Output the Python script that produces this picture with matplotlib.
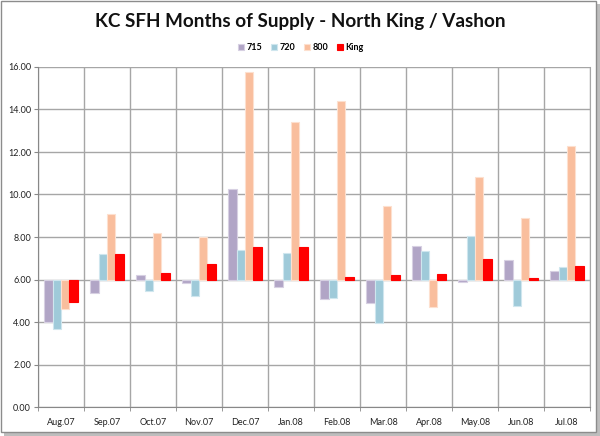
import matplotlib
matplotlib.use("Agg")
import matplotlib.pyplot as plt
from matplotlib.patches import Rectangle
import numpy as np

categories = ["Aug.07", "Sep.07", "Oct.07", "Nov.07", "Dec.07", "Jan.08",
              "Feb.08", "Mar.08", "Apr.08", "May.08", "Jun.08", "Jul.08"]
series_names = ["715", "720", "800", "King"]
s715 = [4.00, 5.37, 6.19, 5.83, 10.24, 5.67, 5.09, 4.90, 7.60, 5.89, 6.91, 6.38]
s720 = [3.68, 7.19, 5.47, 5.21, 7.40, 7.24, 5.12, 3.97, 7.33, 8.06, 4.77, 6.57]
s800 = [4.59, 9.10, 8.20, 8.00, 15.76, 13.41, 14.40, 9.44, 4.71, 10.84, 8.91, 12.30]
sKing = [4.92, 7.22, 6.30, 6.75, 7.55, 7.54, 6.13, 6.19, 6.24, 6.97, 6.05, 6.63]
yticks = [0, 2, 4, 6, 8, 10, 12, 14, 16]
baseline = 6.0

colors = ["#b1a5c6", "#9fcad9", "#f9be9d", "#ff0000"]
edges = ["#d7d0e2", "#cfe6ee", "#fde0cf", "#ff0000"]

plt.rcParams['font.family'] = ['Lato', 'DejaVu Sans']

fig = plt.figure(figsize=(6.0, 4.36), dpi=100)
fig.patch.set_facecolor("white")
# outer frame with shadow
fig.patches.append(Rectangle((4/600, 0/436), 596/600, 432/436, transform=fig.transFigure,
                             facecolor="#bdbdbd", edgecolor="none", zorder=-2))
fig.patches.append(Rectangle((1/600, 4/436), 595/600, 431/436, transform=fig.transFigure,
                             facecolor="white", edgecolor="#8c8c8c", linewidth=1.0, zorder=-1))

ax = fig.add_axes([38/600, 1 - 407/436, (590-38)/600, (407-67)/436])
x = np.arange(len(categories))
w = 0.18
data = [s715, s720, s800, sKing]
for i, (vals, c, e, name) in enumerate(zip(data, colors, edges, series_names)):
    v = np.array(vals)
    ax.bar(x + (i - 1.5) * w, v - baseline, bottom=baseline, width=w, color=c,
           edgecolor=e, linewidth=0.8, label=name, zorder=3)

ax.set_xlim(-0.5, len(categories) - 0.5)
ax.set_ylim(0, 16)
ax.set_yticks(yticks)
ax.set_yticklabels([f"{t:.2f}" for t in yticks], fontsize=6.5, color="#222222")
ax.set_xticks(x)
ax.set_xticklabels(categories, fontsize=6.5, color="#222222")
ax.tick_params(axis='x', length=0, pad=8)
ax.tick_params(axis='y', length=3, color="#888888", pad=2)
ax.set_xticks(np.arange(len(categories) + 1) - 0.5, minor=True)
ax.tick_params(axis='x', which='minor', length=3, color="#888888")
ax.grid(axis='y', color="#a6a6a6", linewidth=1.0, zorder=0)
ax.grid(axis='x', which='minor', color="#a6a6a6", linewidth=1.0, zorder=0)
ax.grid(axis='x', which='major', visible=False)
ax.spines["top"].set_visible(False)
ax.spines["right"].set_color("#a6a6a6")
ax.spines["left"].set_color("#888888")
ax.spines["bottom"].set_color("#888888")

fig.text(0.5, 1 - 21/436, "KC SFH Months of Supply - North King / Vashon",
         ha="center", va="center", fontsize=13.6, fontweight="bold", color="#111111")
leg = fig.legend(loc="center", bbox_to_anchor=(301/600, 1 - 48/436), ncol=4, frameon=False,
                 fontsize=6.5, handlelength=0.6, handleheight=0.6, handletextpad=0.3,
                 columnspacing=1.0)
for t in leg.get_texts():
    t.set_fontweight("bold")

fig.savefig("out.png", dpi=100)
